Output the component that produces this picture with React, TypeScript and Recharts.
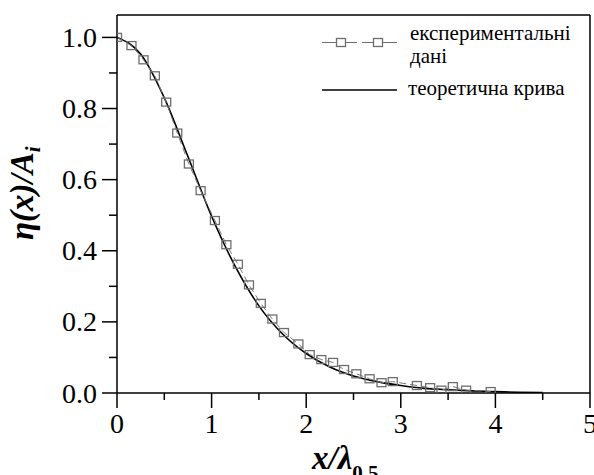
import { LineChart, Line, XAxis, YAxis, Legend, ReferenceLine } from "recharts";

// експериментальні дані (x/λ0.5, η/A)
const expX = [0, 0.153, 0.28, 0.4, 0.52, 0.637, 0.76, 0.884, 1.035, 1.156, 1.278, 1.395, 1.52, 1.642, 1.765, 1.917, 2.037, 2.16, 2.284, 2.4, 2.53, 2.67, 2.796, 2.915, 3.17, 3.31, 3.43, 3.55, 3.69, 3.95];
const expY = [1.0, 0.977, 0.937, 0.892, 0.818, 0.731, 0.644, 0.569, 0.485, 0.417, 0.362, 0.304, 0.252, 0.208, 0.17, 0.138, 0.108, 0.094, 0.086, 0.066, 0.054, 0.04, 0.029, 0.032, 0.021, 0.015, 0.008, 0.018, 0.008, 0.004];

// теоретична крива
const theoX = [0, 0.25, 0.5, 0.75, 1.0, 1.25, 1.5, 1.75, 2.0, 2.25, 2.5, 2.75, 3.0, 3.25, 3.5, 3.75, 4.0, 4.25, 4.5];
const theoY = [1.0, 0.953, 0.83, 0.665, 0.497, 0.356, 0.245, 0.166, 0.111, 0.073, 0.048, 0.032, 0.021, 0.013, 0.009, 0.006, 0.004, 0.002, 0.001];

const xTicks = [0, 0.5, 1, 1.5, 2, 2.5, 3, 3.5, 4, 4.5, 5];
const yTicks = [0, 0.1, 0.2, 0.3, 0.4, 0.5, 0.6, 0.7, 0.8, 0.9, 1.0];
const yMax = 1.063;

const expData = expX.map((x, i) => ({ x, y: expY[i] }));
const theoData = theoX.map((x, i) => ({ x, y: theoY[i] }));

const FONT = "Times New Roman, Liberation Serif, DejaVu Serif, Noto Serif, serif";

function XTick(props: any) {
  const { x, y, payload } = props;
  const major = Number.isInteger(payload.value);
  return (
    <g>
      <line x1={x} x2={x} y1={y} y2={y + (major ? 15 : 7)} stroke="#000" strokeWidth={1.5} />
      {major && (
        <text x={x} y={y + 40} textAnchor="middle" fontSize={28} fontFamily={FONT} fill="#000">
          {payload.value}
        </text>
      )}
    </g>
  );
}

function YTick(props: any) {
  const { x, y, payload } = props;
  const major = Math.round(payload.value * 10) % 2 === 0;
  return (
    <g>
      <line x1={x} x2={x - (major ? 15 : 8)} y1={y} y2={y} stroke="#000" strokeWidth={1.5} />
      {major && (
        <text x={x - 20} y={y + 9.5} textAnchor="end" fontSize={28} fontFamily={FONT} fill="#000">
          {payload.value.toFixed(1)}
        </text>
      )}
    </g>
  );
}

function Square(props: any) {
  const { cx, cy, index } = props;
  if (cx == null || cy == null) return <g key={index} />;
  return <rect key={index} x={cx - 4.5} y={cy - 4} width={9} height={8} fill="none" stroke="#6e6e6e" strokeWidth={1.3} />;
}

function LegendBox() {
  return (
    <svg width={290} height={90} style={{ fontFamily: FONT }}>
      <line x1={22} x2={57} y1={27.5} y2={27.5} stroke="#6e6e6e" strokeWidth={1} />
      <line x1={62} x2={97} y1={27.5} y2={27.5} stroke="#6e6e6e" strokeWidth={1} />
      <rect x={36.5} y={23.5} width={9} height={8} fill="#fff" stroke="#6e6e6e" strokeWidth={1.3} />
      <rect x={73.5} y={23.5} width={9} height={8} fill="#fff" stroke="#6e6e6e" strokeWidth={1.3} />
      <text x={110} y={25} fontSize={21} fontFamily={FONT} fill="#000">експериментальні</text>
      <text x={110} y={48} fontSize={21} fontFamily={FONT} fill="#000">дані</text>
      <line x1={22} x2={97} y1={75} y2={75} stroke="#000" strokeWidth={1.6} />
      <text x={108} y={80} fontSize={21} fontFamily={FONT} fill="#000">теоретична крива</text>
    </svg>
  );
}

export default function App() {
  return (
    <div style={{ position: "absolute", left: 0, top: 0, background: "#fff", fontFamily: FONT }}>
      <LineChart width={594} height={475} margin={{ top: 15, right: 4, left: 17, bottom: 0 }} style={{ fontFamily: FONT }}>
        <XAxis
          dataKey="x"
          type="number"
          domain={[0, 5]}
          ticks={xTicks}
          interval={0}
          height={82}
          tickSize={0}
          tickMargin={0}
          tickLine={false}
          tick={<XTick />}
          axisLine={{ stroke: "#000", strokeWidth: 1.5 }}
          allowDataOverflow
        />
        <YAxis
          dataKey="y"
          type="number"
          domain={[0, yMax]}
          ticks={yTicks}
          interval={0}
          width={100}
          tickSize={0}
          tickMargin={0}
          tickLine={false}
          tick={<YTick />}
          axisLine={{ stroke: "#000", strokeWidth: 1.5 }}
          allowDataOverflow
          label={{
            content: () => (
              <text
                x={33}
                y={240}
                transform="rotate(-90, 33, 240)"
                fontSize={33}
                fontFamily={FONT}
                fontWeight="bold"
                fontStyle="italic"
                fill="#000"
              >
                η(x)/A
                <tspan dy={7} fontSize={21}>i</tspan>
              </text>
            ),
          }}
        />
        <ReferenceLine y={yMax} stroke="#000" strokeWidth={1.5} ifOverflow="extendDomain" />
        <ReferenceLine x={5} stroke="#000" strokeWidth={1.5} />
        <ReferenceLine
          y={0}
          stroke="none"
          label={{
            content: () => (
              <text x={312} y={469} fontSize={33} fontFamily={FONT} fontWeight="bold" fontStyle="italic" fill="#000">
                x/λ
                <tspan dy={11} fontSize={21} fontStyle="normal">0.5</tspan>
              </text>
            ),
          }}
        />
        <Line
          data={theoData}
          dataKey="y"
          type="monotone"
          stroke="#000"
          strokeWidth={1.6}
          dot={false}
          isAnimationActive={false}
        />
        <Line
          data={expData}
          dataKey="y"
          type="linear"
          stroke="#7a7a7a"
          strokeWidth={1}
          strokeDasharray="7 4"
          dot={<Square />}
          isAnimationActive={false}
        />
        <Legend
          verticalAlign="middle"
          layout="horizontal"
          content={() => <LegendBox />}
          wrapperStyle={{ position: "absolute", left: 300, top: 15, width: 290, height: 90 }}
        />
      </LineChart>
    </div>
  );
}
